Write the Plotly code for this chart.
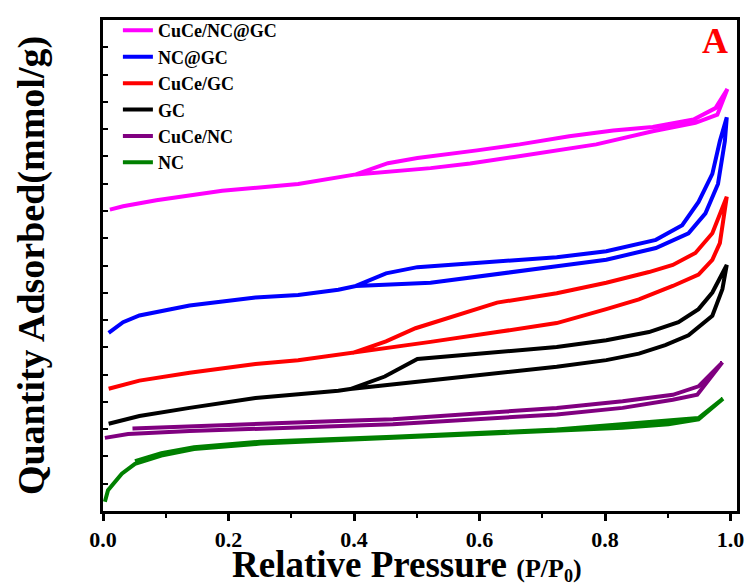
import plotly.graph_objects as go

# ---------------- data (relative pressure P/P0, quantity adsorbed, offset curves) --------------
samples = ["CuCe/NC@GC", "NC@GC", "CuCe/GC", "GC", "CuCe/NC", "NC"]
colors = ["#FF00FF", "#0000FF", "#FF0000", "#000000", "#800080", "#008000"]

# CuCe/NC@GC
p_ads_cucencgc = [0.011, 0.032, 0.085, 0.190, 0.311, 0.403, 0.522, 0.585, 0.655, 0.691, 0.786, 0.876, 0.944, 0.979, 0.995]
q_ads_cucencgc = [11.05, 11.17, 11.39, 11.74, 11.99, 12.34, 12.57, 12.74, 12.98, 13.11, 13.44, 13.92, 14.23, 14.53, 15.47]
p_des_cucencgc = [0.995, 0.976, 0.941, 0.876, 0.813, 0.743, 0.664, 0.596, 0.501, 0.454, 0.403]
q_des_cucencgc = [15.47, 14.77, 14.35, 14.08, 13.95, 13.74, 13.44, 13.22, 12.94, 12.75, 12.34]

# NC@GC
p_ads_ncgc = [0.009, 0.032, 0.058, 0.138, 0.243, 0.311, 0.375, 0.403, 0.522, 0.628, 0.723, 0.802, 0.881, 0.933, 0.960, 0.980, 0.991, 0.994]
q_ads_ncgc = [6.53, 6.92, 7.17, 7.53, 7.83, 7.92, 8.11, 8.25, 8.37, 8.67, 8.97, 9.21, 9.64, 10.18, 10.91, 11.99, 13.56, 14.43]
p_des_ncgc = [0.994, 0.983, 0.971, 0.949, 0.923, 0.881, 0.802, 0.723, 0.501, 0.451, 0.403]
q_des_ncgc = [14.43, 13.56, 12.36, 11.33, 10.48, 9.94, 9.52, 9.30, 8.94, 8.71, 8.25]

# CuCe/GC
p_ads_cucegc = [0.009, 0.058, 0.138, 0.243, 0.311, 0.398, 0.522, 0.628, 0.723, 0.802, 0.854, 0.908, 0.949, 0.971, 0.983, 0.994]
q_ads_cucegc = [4.48, 4.78, 5.07, 5.39, 5.53, 5.80, 6.20, 6.56, 6.89, 7.40, 7.76, 8.25, 8.67, 9.21, 9.82, 11.52]
p_des_cucegc = [0.994, 0.971, 0.944, 0.908, 0.870, 0.802, 0.723, 0.628, 0.498, 0.451, 0.398]
q_des_cucegc = [11.52, 10.18, 9.46, 9.02, 8.76, 8.37, 7.98, 7.64, 6.70, 6.22, 5.80]

# GC
p_ads_gc = [0.009, 0.058, 0.138, 0.243, 0.375, 0.394, 0.549, 0.723, 0.802, 0.854, 0.896, 0.933, 0.971, 0.987, 0.994]
q_ads_gc = [3.20, 3.48, 3.78, 4.14, 4.41, 4.47, 4.86, 5.29, 5.53, 5.77, 6.08, 6.44, 7.16, 8.13, 9.02]
p_des_gc = [0.994, 0.987, 0.971, 0.949, 0.917, 0.870, 0.802, 0.723, 0.501, 0.449, 0.394]
q_des_gc = [9.02, 8.73, 8.01, 7.40, 6.92, 6.56, 6.26, 6.01, 5.57, 4.93, 4.47]

# CuCe/NC
p_ads_cucenc = [0.003, 0.040, 0.138, 0.375, 0.462, 0.723, 0.828, 0.908, 0.947, 0.987]
q_ads_cucenc = [2.68, 2.82, 2.93, 3.10, 3.18, 3.54, 3.78, 4.08, 4.26, 5.45]
p_des_cucenc = [0.987, 0.949, 0.908, 0.828, 0.723, 0.462, 0.375, 0.047]
q_des_cucenc = [5.45, 4.57, 4.26, 4.02, 3.78, 3.36, 3.30, 3.02]

# NC
p_ads_nc = [0.003, 0.008, 0.030, 0.051, 0.093, 0.145, 0.251, 0.462, 0.723, 0.828, 0.901, 0.949, 0.988]
q_ads_nc = [0.34, 0.76, 1.37, 1.73, 2.03, 2.27, 2.47, 2.67, 2.93, 3.05, 3.18, 3.36, 4.12]
p_des_nc = [0.988, 0.949, 0.723, 0.462, 0.251, 0.145, 0.093, 0.051]
q_des_nc = [4.12, 3.41, 2.99, 2.72, 2.54, 2.34, 2.12, 1.83]

x_ticks = [0.0, 0.2, 0.4, 0.6, 0.8, 1.0]
x_tick_labels = ["0.0", "0.2", "0.4", "0.6", "0.8", "1.0"]

branches = [
    (p_ads_cucencgc, q_ads_cucencgc, p_des_cucencgc, q_des_cucencgc),
    (p_ads_ncgc, q_ads_ncgc, p_des_ncgc, q_des_ncgc),
    (p_ads_cucegc, q_ads_cucegc, p_des_cucegc, q_des_cucegc),
    (p_ads_gc, q_ads_gc, p_des_gc, q_des_gc),
    (p_ads_cucenc, q_ads_cucenc, p_des_cucenc, q_des_cucenc),
    (p_ads_nc, q_ads_nc, p_des_nc, q_des_nc),
]

FONT = "Liberation Serif"

fig = go.Figure()
for name, col, (pa, qa, pd_, qd) in zip(samples, colors, branches):
    fig.add_trace(go.Scatter(
        x=pa + pd_, y=qa + qd, mode="lines", name=name,
        line=dict(color=col, width=4, shape="linear"),
    ))

XR = [0, 1.0103]
YR = [0, 18]

fig.update_layout(
    width=756, height=586,
    margin=dict(l=103, r=14, t=14, b=75),
    plot_bgcolor="white", paper_bgcolor="white",
    font=dict(family=FONT, color="black", weight="bold"),
    showlegend=True,
    legend=dict(
        x=0.0235, xanchor="left", y=1.016, yanchor="top",
        bgcolor="rgba(0,0,0,0)", borderwidth=0,
        font=dict(family=FONT, size=18, color="black", weight="bold"),
        tracegroupgap=0,
    ),
    xaxis=dict(
        range=XR, showgrid=False, zeroline=False,
        showline=True, linecolor="black", linewidth=3, mirror=True,
        tickmode="array", tickvals=x_ticks, ticktext=x_tick_labels,
        ticks="outside", ticklen=7, tickwidth=2.5, tickcolor="black",
        minor=dict(dtick=0.1, tick0=0, ticks="outside", ticklen=4, tickwidth=2, tickcolor="black"),
        tickfont=dict(family=FONT, size=22, color="black", weight="bold"),
    ),
    yaxis=dict(
        range=YR, showgrid=False, zeroline=False,
        showline=True, linecolor="black", linewidth=3, mirror=True,
        tickmode="linear", tick0=0, dtick=1,
        ticks="inside", ticklen=5, tickwidth=2, tickcolor="black",
        showticklabels=False,
        title=dict(
            text="Quantity Adsorbed(mmol/g)",
            font=dict(family=FONT, size=38, color="black", weight="bold"),
            standoff=44,
        ),
    ),
    xaxis2=dict(
        range=XR, overlaying="x", side="top", anchor="y",
        showgrid=False, zeroline=False, showline=False,
        tickmode="linear", tick0=0, dtick=0.1,
        ticks="inside", ticklen=4, tickwidth=2, tickcolor="black",
        showticklabels=False,
    ),
    yaxis2=dict(
        range=YR, overlaying="y", side="right", anchor="x",
        showgrid=False, zeroline=False, showline=False,
        tickmode="linear", tick0=0, dtick=1,
        ticks="outside", ticklen=4, tickwidth=2, tickcolor="black",
        showticklabels=False,
    ),
    annotations=[
        dict(
            text="A", xref="paper", yref="paper", x=0.965, y=0.958,
            xanchor="center", yanchor="middle", showarrow=False,
            font=dict(family=FONT, size=36, color="#FF0000", weight="bold"),
        ),
        dict(
            text="Relative Pressure <span style='font-size:26px'>(P/P<sub>0</sub>)</span>",
            xref="paper", yref="paper", x=0.479, y=-0.110,
            xanchor="center", yanchor="middle", showarrow=False,
            font=dict(family=FONT, size=37, color="black", weight="bold"),
        ),
    ],
)

fig.write_html("out.html")
